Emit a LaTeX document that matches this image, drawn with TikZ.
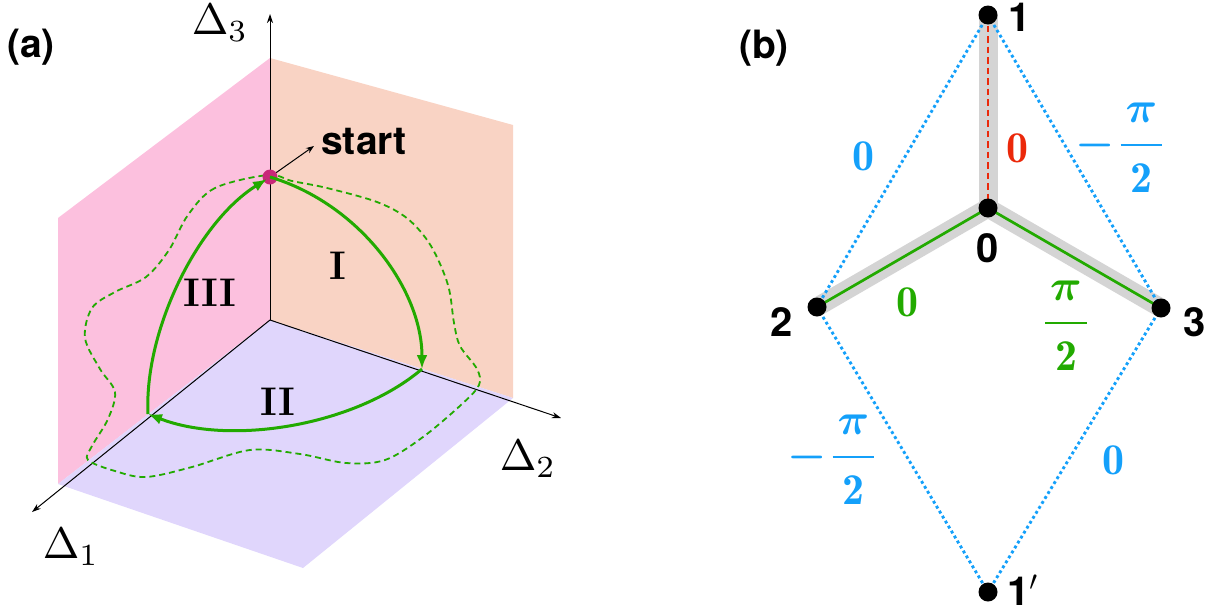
\RequirePackage{fix-cm}
\documentclass[tikz,border=0pt]{standalone}
\usepackage{amsmath}
\usepackage{graphicx}
\usepackage{fontspec}
\usepackage{bm}
\usetikzlibrary{arrows.meta}
\newfontfamily\hv{TeX Gyre Heros}
\definecolor{pinkp}{RGB}{252,192,222}
\definecolor{salp}{RGB}{249,211,196}
\definecolor{lavp}{RGB}{224,214,252}
\definecolor{grn}{RGB}{34,170,0}
\definecolor{mag}{RGB}{200,40,120}
\definecolor{blu}{RGB}{20,160,250}
\definecolor{rd}{RGB}{235,40,10}
\definecolor{band}{RGB}{212,212,212}
\newcommand{\pihalf}{\genfrac{}{}{2.6pt}{0}{\mkern2mu\bm{\pi}\rule[-13.5pt]{0pt}{13.5pt}\mkern2mu}{\rule{0pt}{38pt}\mathbf{2}}}
\newcommand{\bigdelta}[1]{\scalebox{4.4}{$\Delta_{#1}$}}
\begin{document}
\begin{tikzpicture}[x=1pt,y=-1pt,
  axis/.style={line width=1pt,-{Stealth[length=9pt,width=6pt]}},
  arcg/.style={draw=grn,line width=3pt,-{Latex[length=14pt,width=11pt]}},
  loopg/.style={draw=grn,line width=1.8pt,dash pattern=on 6pt off 4pt},
  dlbl/.style={font=\normalsize,inner sep=0pt},
  rlbl/.style={font=\fontsize{40}{40}\selectfont\bfseries,inner sep=0pt},
  tag/.style={font=\hv\bfseries\fontsize{39}{39}\selectfont,inner sep=0pt},
  nlbl/.style={font=\hv\bfseries\fontsize{40}{40}\selectfont,inner sep=0pt},
  mlbl/.style={font=\fontsize{44}{44}\selectfont,inner sep=0pt},
  dot/.style={circle,fill=black,minimum size=19pt,inner sep=0pt},
  bandln/.style={draw=band,line width=19pt},
  blueln/.style={draw=blu,line width=2.9pt,dash pattern=on 2.9pt off 2.9pt}
]
\useasboundingbox (0,0) rectangle (1217,614);
% ---------- panel (a)
\coordinate (O) at (270,320);
\coordinate (T) at (270,58);
\coordinate (P1) at (58,218);
\coordinate (P2) at (58,484);
\coordinate (S1) at (513,125);
\coordinate (S2) at (513,398);
\coordinate (L) at (303,568);
\fill[pinkp] (O) -- (T) -- (P1) -- (P2) -- cycle;
\fill[salp] (O) -- (T) -- (S1) -- (S2) -- cycle;
\fill[lavp] (O) -- (S2) -- (L) -- (P2) -- cycle;
\coordinate (X3) at (270,14);
\coordinate (X2) at (561,418);
\coordinate (X1) at (32,512);
\draw[axis] (O) -- (X3);
\draw[axis] (O) -- (X2);
\draw[axis] (O) -- (X1);
\node[dlbl] (d3) at (220,23) {\bigdelta{3}};
\node[dlbl] (d2) at (528,459) {\bigdelta{2}};
\node[dlbl] (d1) at (71,547) {\bigdelta{1}};
\node[tag] (ta) at (31,47) {(a)};
% dashed loop
\draw[loopg] plot[smooth cycle,tension=0.55] coordinates {
 (268,175) (215,188) (188,215) (169,250) (146,277) (115,292) (92,308) (85,338)
 (100,369) (115,392) (108,419) (92,446) (88,460) (115,471) (146,477) (192,467)
 (250,450) (300,454) (346,463) (385,460) (423,437) (462,404) (479,385) (477,369)
 (460,346) (454,323) (448,285) (431,246) (408,219) (377,202) (327,188) (292,181)};
% start
\node[circle,fill=mag,minimum size=15pt,inner sep=0pt] (st) at (270,177) {};
\node[tag,anchor=west] (stl) at (321,142) {start};
\coordinate (stt) at (314,146);
\draw[line width=1pt,-{Stealth[length=8pt,width=6pt]}] (st) -- (stt);
\coordinate (A2) at (422,369);
\coordinate (A1) at (148,414);
\coordinate (Ast) at (267,179);
\draw[arcg] (st.center) .. controls (360,204) and (422,290) .. (A2);
\draw[arcg] (A2) .. controls (355,426) and (230,446) .. (A1);
\draw[arcg] (A1) .. controls (144,330) and (198,222) .. (Ast);
\node[rlbl] (r1) at (338,266) {I};
\node[rlbl] (r3) at (210,293) {III};
\node[rlbl] (r2) at (278,402) {II};
% ---------- panel (b)
\node[tag] (tb) at (764,48) {(b)};
\coordinate (n1c) at (988,15);
\coordinate (n0c) at (988,208);
\coordinate (n2c) at (817,307);
\coordinate (n3c) at (1161,308);
\coordinate (n1pc) at (988,592);
\draw[bandln] (n1c) -- (n0c);
\draw[bandln,line join=miter] (n2c) -- (n0c) -- (n3c);
\draw[draw=rd,line width=2.7pt,dash pattern=on 6.5pt off 4pt] (n1c) -- (n0c);
\draw[draw=grn,line width=2.7pt] (n2c) -- (n0c) -- (n3c);
\draw[blueln] (n1c) -- (n2c);
\draw[blueln] (n1c) -- (n3c);
\draw[blueln] (n2c) -- (n1pc);
\draw[blueln] (n3c) -- (n1pc);
\node[dot] (n1) at (n1c) {};
\node[dot] (n0) at (n0c) {};
\node[dot] (n2) at (n2c) {};
\node[dot] (n3) at (n3c) {};
\node[dot] (n1p) at (n1pc) {};
\node[nlbl,anchor=west] (l1) at (1008,17) {1};
\node[nlbl] (l0) at (988,248) {0};
\node[nlbl] (l2) at (782,322) {2};
\node[nlbl] (l3) at (1195,322) {3};
\node[nlbl,anchor=west] (l1p) at (1007,590) {1$'$};
\node[mlbl,text=blu] (e12) at (863,156) {$\mathbf{0}$};
\node[mlbl,text=rd] (e10) at (1017,148) {$\mathbf{0}$};
\node[mlbl,text=blu,anchor=base west] (e13) at (1075,156) {$\displaystyle\bm{-}\mkern2mu\pihalf$};
\node[mlbl,text=grn] (e02) at (907,302) {$\mathbf{0}$};
\node[mlbl,text=grn,anchor=base] (e03) at (1066,334) {$\displaystyle\pihalf$};
\node[mlbl,text=blu,anchor=base west] (e21) at (787,468) {$\displaystyle\bm{-}\mkern2mu\pihalf$};
\node[mlbl,text=blu] (e31) at (1113,460) {$\mathbf{0}$};
\end{tikzpicture}
\end{document}
